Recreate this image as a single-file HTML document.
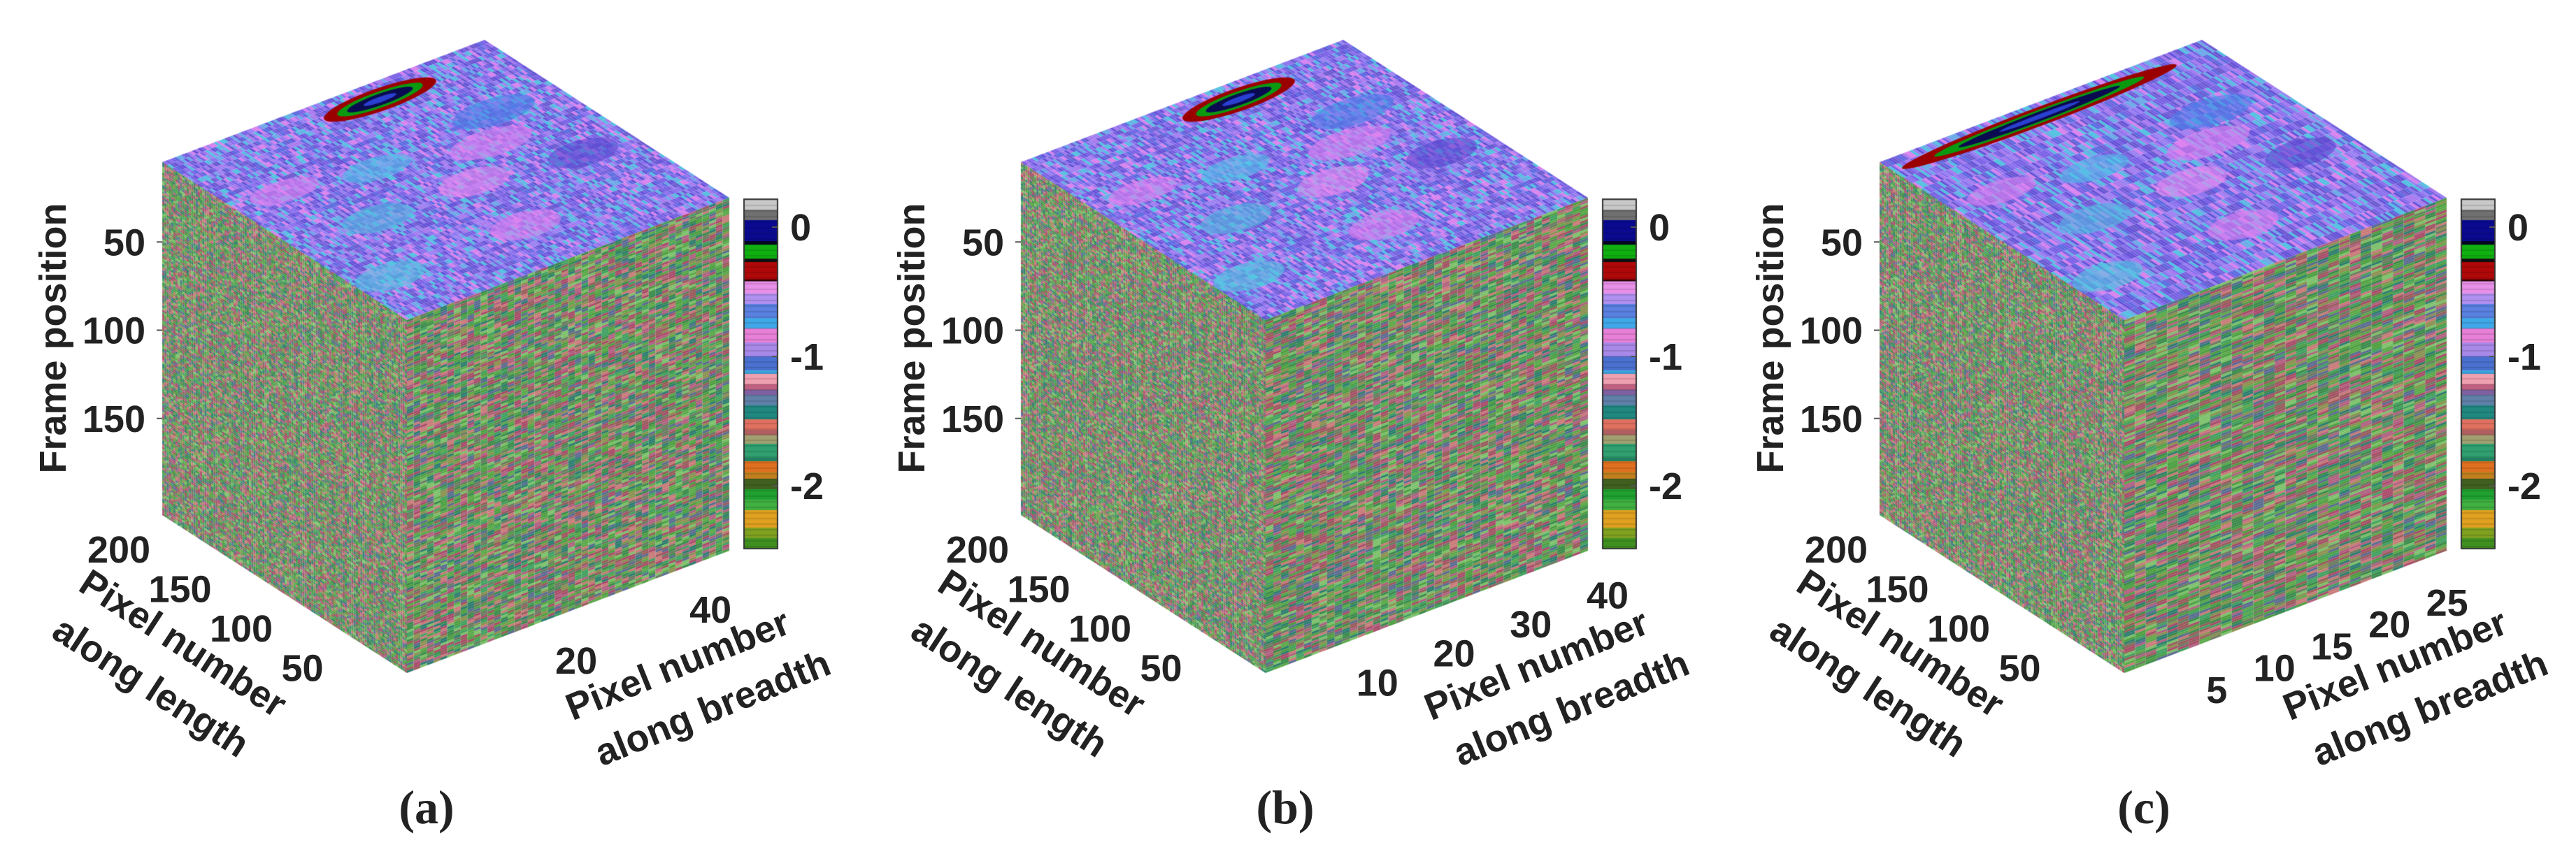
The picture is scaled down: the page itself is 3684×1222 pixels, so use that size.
<!DOCTYPE html>
<html><head><meta charset="utf-8">
<style>
html,body{margin:0;padding:0;background:#fff;}
#wrap{position:relative;width:3684px;height:1222px;overflow:hidden;}
canvas,svg{position:absolute;left:0;top:0;}
text{font-family:"Liberation Sans",sans-serif;font-weight:bold;fill:#222;}
</style></head>
<body>
<div id="wrap">
<canvas id="cv" width="3684" height="1222"></canvas>
<svg id="sv" width="3684" height="1222"></svg>
</div>
<script>
// ---- data ----
const panelLabels = ["(a)", "(b)", "(c)"];
const frameTicks = [50, 100, 150];
const lengthTicks = [200, 150, 100, 50];
const breadthTicksA = [20, 40];
const breadthTicksB = [10, 20, 30, 40];
const breadthTicksC = [5, 10, 15, 20, 25];
const breadthMax = [48, 42, 28];
const colorbarTicks = [0, -1, -2];
const colorbarRange = [0.216, -2.486];
const cbStops = [0,"#c8c8c8",0.03,"#707070",0.06,"#0a0a90",0.12,"#050520",0.13,"#10b010",0.17,"#101010",0.18,"#b00808",0.23,"#200000",0.235,"#e890e8",0.27,"#b090f0",0.30,"#5a80e0",0.34,"#40a8e8",0.37,"#e880d8",0.41,"#a888e8",0.45,"#4a70d0",0.49,"#40a8e0",0.50,"#f0a0b0",0.53,"#c06080",0.545,"#8060a0",0.56,"#6080a8",0.59,"#208880",0.63,"#e07060",0.66,"#b06060",0.675,"#a0a070",0.70,"#30a070",0.74,"#208060",0.75,"#e07020",0.78,"#c08020",0.80,"#406020",0.83,"#20a030",0.86,"#40b040",0.89,"#e0a020",0.94,"#80a020",0.97,"#409020"];
const topPalette = ["#7a60e6","#8a70ee","#6450d8","#9a80f2","#5a6ae0","#6aa8e8","#50c0e0","#d880ee","#a878ee","#6a58d0","#7460e0"];
const sidePalette = ["#4c9e40","#7cc06a","#a84a68","#c87a78","#2c7c6e","#5a6a90","#8a9050","#3a8a4a","#b06080","#6a7a60","#40a060","#985a5a","#5aa848"];
const topBlobs = [
  [0.385,0.08,0.17,0.05,"#9b0000"],[0.385,0.08,0.13,0.035,"#0a9a10"],[0.385,0.08,0.10,0.025,"#0a0a50"],[0.385,0.08,0.05,0.012,"#2a40d0"],
  [0.30,0.42,0.12,0.06,"#e080f0"],[0.45,0.55,0.10,0.06,"#e888f0"],[0.48,0.80,0.10,0.06,"#e080f0"],
  [0.60,0.35,0.10,0.05,"#50c0e8"],[0.75,0.55,0.10,0.06,"#50b8e0"],[0.20,0.30,0.12,0.06,"#4a80e8"],
  [0.85,0.30,0.10,0.05,"#e080f0"],[0.90,0.80,0.10,0.06,"#50c8e0"],[0.15,0.60,0.10,0.06,"#5a48d0"]
];
// ---- geometry ----
const T=[693,57], L=[232,232], R=[1043,283];
const F=[L[0]+R[0]-T[0], L[1]+R[1]-T[1]];
const DOWN=505;
const cv=document.getElementById('cv'); const ctx=cv.getContext('2d');
const NS="http://www.w3.org/2000/svg"; const sv=document.getElementById('sv');
function hash(a,b,c){let h=(a*374761393+b*668265263+c*2147483647)|0;h=(h^(h>>>13))*1274126177|0;return ((h^(h>>>16))>>>0)/4294967296;}
function face(ox,O,U,V,nu,nv,pal,seed){
  for(let j=0;j<nv;j++)for(let i=0;i<nu;i++){
    const a=i/nu,b=j/nv,a2=(i+1)/nu,b2=(j+1)/nv;
    ctx.fillStyle=pal[Math.floor(hash(i,j,seed)*pal.length)];
    ctx.beginPath();
    const p=(x,y)=>[ox+O[0]+U[0]*x+V[0]*y,O[1]+U[1]*x+V[1]*y];
    let q=p(a,b);ctx.moveTo(q[0],q[1]);q=p(a2,b);ctx.lineTo(q[0],q[1]);
    q=p(a2,b2);ctx.lineTo(q[0],q[1]);q=p(a,b2);ctx.lineTo(q[0],q[1]);ctx.closePath();ctx.fill();
  }
}
function txt(x,y,s,size,opts){
  const t=document.createElementNS(NS,'text');t.setAttribute('x',x);t.setAttribute('y',y);
  t.setAttribute('font-size',size);t.setAttribute('text-anchor',opts.anchor||'middle');
  if(opts.rot!==undefined)t.setAttribute('transform','rotate('+opts.rot+' '+x+' '+y+')');
  if(opts.serif){t.style.fontFamily='"Liberation Serif",serif';}
  
  
  t.textContent=s;sv.appendChild(t);return t;
}
function line(x1,y1,x2,y2,name){
  const l=document.createElementNS(NS,'line');l.setAttribute('x1',x1);l.setAttribute('y1',y1);l.setAttribute('x2',x2);l.setAttribute('y2',y2);
  l.setAttribute('stroke','#555');l.setAttribute('stroke-width','2');
  
  
  sv.appendChild(l);
}
const breadthSets=[breadthTicksA,breadthTicksB,breadthTicksC];
const FS=54;
for(let p=0;p<3;p++){
  const ox=p*1228;
  const UT=[R[0]-T[0],R[1]-T[1]], VT=[L[0]-T[0],L[1]-T[1]];
  face(ox,T,UT,VT,p==2?30:50,120,topPalette,p*10+1);
  ctx.save();
  ctx.setTransform(UT[0],UT[1],VT[0],VT[1],ox+T[0],T[1]);
  topBlobs.forEach((bl,k)=>{
    if(k<4&&p==2){ctx.fillStyle=bl[4];ctx.beginPath();ctx.ellipse(0.06,0.55,bl[3]*0.8,bl[2]*2.5,0,0,Math.PI*2);ctx.fill();return;}
    ctx.globalAlpha=k<4?1:0.6;ctx.fillStyle=bl[4];ctx.beginPath();ctx.ellipse(bl[1],bl[0],bl[3],bl[2],0,0,Math.PI*2);ctx.fill();
  });
  ctx.restore();ctx.globalAlpha=1;
  face(ox,L,[F[0]-L[0],F[1]-L[1]],[0,DOWN],110,170,sidePalette,p*10+2);
  face(ox,F,[R[0]-F[0],R[1]-F[1]],[0,DOWN],p==2?30:(p==1?42:48),150,sidePalette,p*10+3);
  // colorbar
  const cbx=ox+1064,cby=285,cbw=48,cbh=500;
  for(let k=0;k<cbStops.length;k+=2){
    const y0=cbStops[k],y1=(k+2<cbStops.length)?cbStops[k+2]:1;
    ctx.fillStyle=cbStops[k+1];ctx.fillRect(cbx,cby+y0*cbh,cbw,(y1-y0)*cbh+1);
  }
  ctx.fillStyle='rgba(0,0,0,0.12)';
  for(let y=cby;y<cby+cbh;y+=8)ctx.fillRect(cbx,y,cbw,2);
  ctx.strokeStyle='#333';ctx.lineWidth=2;ctx.strokeRect(cbx,cby,cbw,cbh);
  colorbarTicks.forEach(v=>{
    const y=cby+(colorbarRange[0]-v)/(colorbarRange[0]-colorbarRange[1])*cbh;
    txt(cbx+66,y+19,String(v),FS,{anchor:'start',name:'colorbar-tick-label'});
    line(cbx+cbw-8,y,cbx+cbw,y,'colorbar-tick');
  });
  frameTicks.forEach(v=>{
    const y=L[1]-12+v/200*DOWN;
    txt(ox+208,y+19,String(v),FS,{anchor:'end',name:'frame-tick-label'});
    line(ox+L[0]-8,y,ox+L[0],y,'frame-tick');
  });
  txt(ox+94,484,'Frame position',FS,{rot:-90,name:'frame-axis-title'});
  const BL=[L[0],L[1]+DOWN], BF=[F[0],F[1]+DOWN];
  lengthTicks.forEach(v=>{
    const f=1-v/200, x=BL[0]+(BF[0]-BL[0])*f, y=BL[1]+(BF[1]-BL[1])*f;
    txt(ox+x-62,y+68,String(v),FS,{name:'length-tick-label'});
  });
  txt(ox+252,936,'Pixel number',FS,{rot:33,name:'length-axis-title'});
  txt(ox+206,998,'along length',FS,{rot:33,name:'length-axis-title-line2'});
  const BR=[R[0],R[1]+DOWN];
  breadthSets[p].forEach(v=>{
    const f=v/breadthMax[p], x=BF[0]+(BR[0]-BF[0])*f, y=BF[1]+(BR[1]-BF[1])*f;
    txt(ox+x+50,y+74,String(v),FS,{name:'breadth-tick-label'});
  });
  txt(ox+976,968,'Pixel number',FS,{rot:-22,name:'breadth-axis-title'});
  txt(ox+1026,1030,'along breadth',FS,{rot:-22,name:'breadth-axis-title-line2'});
  txt(ox+610,1178,panelLabels[p],68,{serif:true,name:'panel-label'});
}
</script>
</body></html>
